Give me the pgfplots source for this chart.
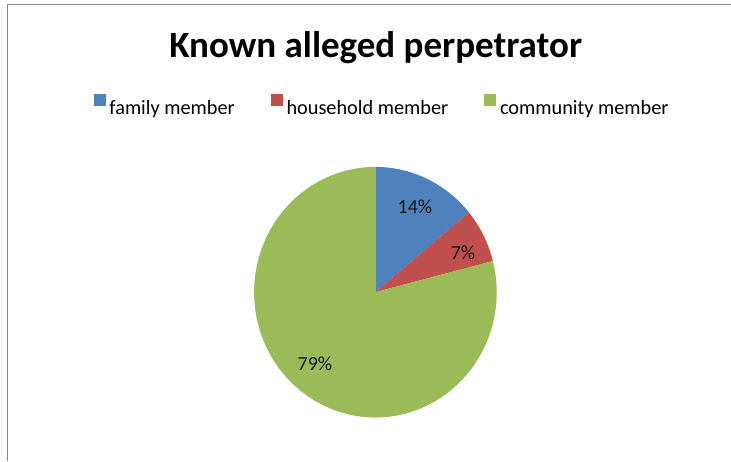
\documentclass[border=0pt]{standalone}
\usepackage{pgfplots}
\usepackage{pgfplotstable}
\pgfplotsset{compat=1.18}
\usepackage{fontspec}
\setmainfont{Carlito}

\definecolor{famblue}{HTML}{4F81BD}
\definecolor{housered}{HTML}{C0504D}
\definecolor{commgreen}{HTML}{9BBB59}
\definecolor{framegray}{HTML}{878787}

% share of known alleged perpetrators, in percent
\pgfplotstableread{
label value
family 14
household 7
community 79
}\piedata
\pgfplotstablegetelem{0}{value}\of\piedata \let\va\pgfplotsretval
\pgfplotstablegetelem{1}{value}\of\piedata \let\vb\pgfplotsretval
\pgfplotstablegetelem{2}{value}\of\piedata \let\vc\pgfplotsretval
% slice angles, clockwise from 12 o'clock
\pgfmathsetmacro\aA{90-3.6*\va}%
\pgfmathsetmacro\aB{\aA-3.6*\vb}%
\pgfmathsetmacro\aC{\aB-3.6*\vc}%
\def\rx{121.3pt}%
\def\ry{125.3pt}%

\begin{document}%
\begin{tikzpicture}
\begin{axis}[
    x=1pt, y=1pt,
    xmin=0, xmax=731, ymin=0, ymax=461,
    hide axis, clip=false,
    legend columns=3,
    legend image code/.code={\fill[#1, draw=none] (0pt,2pt) rectangle (12pt,14pt);},
    legend style={
        at={(axis cs:93.5,356)}, anchor=west,
        draw=none, fill=none, inner sep=0pt,
        font=\fontsize{20.3}{24}\selectfont,
        nodes={inner sep=0pt},
        /tikz/every odd column/.append style={column sep=3.8pt},
        /tikz/every even column/.append style={column sep=36pt},
    },
]
\coordinate (bl) at (axis cs:0,0);
\coordinate (tr) at (axis cs:731,461);
\draw[framegray, line width=1.5pt] (axis cs:7.5,0) -- (axis cs:7.5,456.5) -- (axis cs:731,456.5);

\addlegendimage{fill=famblue}
\addlegendentry{family member}
\addlegendimage{fill=housered}
\addlegendentry{household member}
\addlegendimage{fill=commgreen}
\addlegendentry{community member}

\fill[famblue] (axis cs:375.4,168.8) -- +(90:\rx\space and \ry)
    arc[start angle=90, end angle=\aA, x radius=\rx, y radius=\ry] -- cycle;
\fill[housered] (axis cs:375.4,168.8) -- +(\aA:\rx\space and \ry)
    arc[start angle=\aA, end angle=\aB, x radius=\rx, y radius=\ry] -- cycle;
\fill[commgreen] (axis cs:375.4,168.8) -- +(\aB:\rx\space and \ry)
    arc[start angle=\aB, end angle=\aC, x radius=\rx, y radius=\ry] -- cycle;

\node[font=\fontsize{20}{24}\selectfont, text=black!90] at (axis cs:415,254) {14\%};
\node[font=\fontsize{20}{24}\selectfont, text=black!90] at (axis cs:463,208) {7\%};
\node[font=\fontsize{20}{24}\selectfont, text=black!90] at (axis cs:315,97) {79\%};

\node[font=\fontsize{37}{40}\selectfont\bfseries, anchor=base] at (axis cs:375.7,403.7) {Known alleged perpetrator};
\end{axis}
\pgfresetboundingbox
\path (bl) rectangle (tr);
\end{tikzpicture}%
\end{document}
